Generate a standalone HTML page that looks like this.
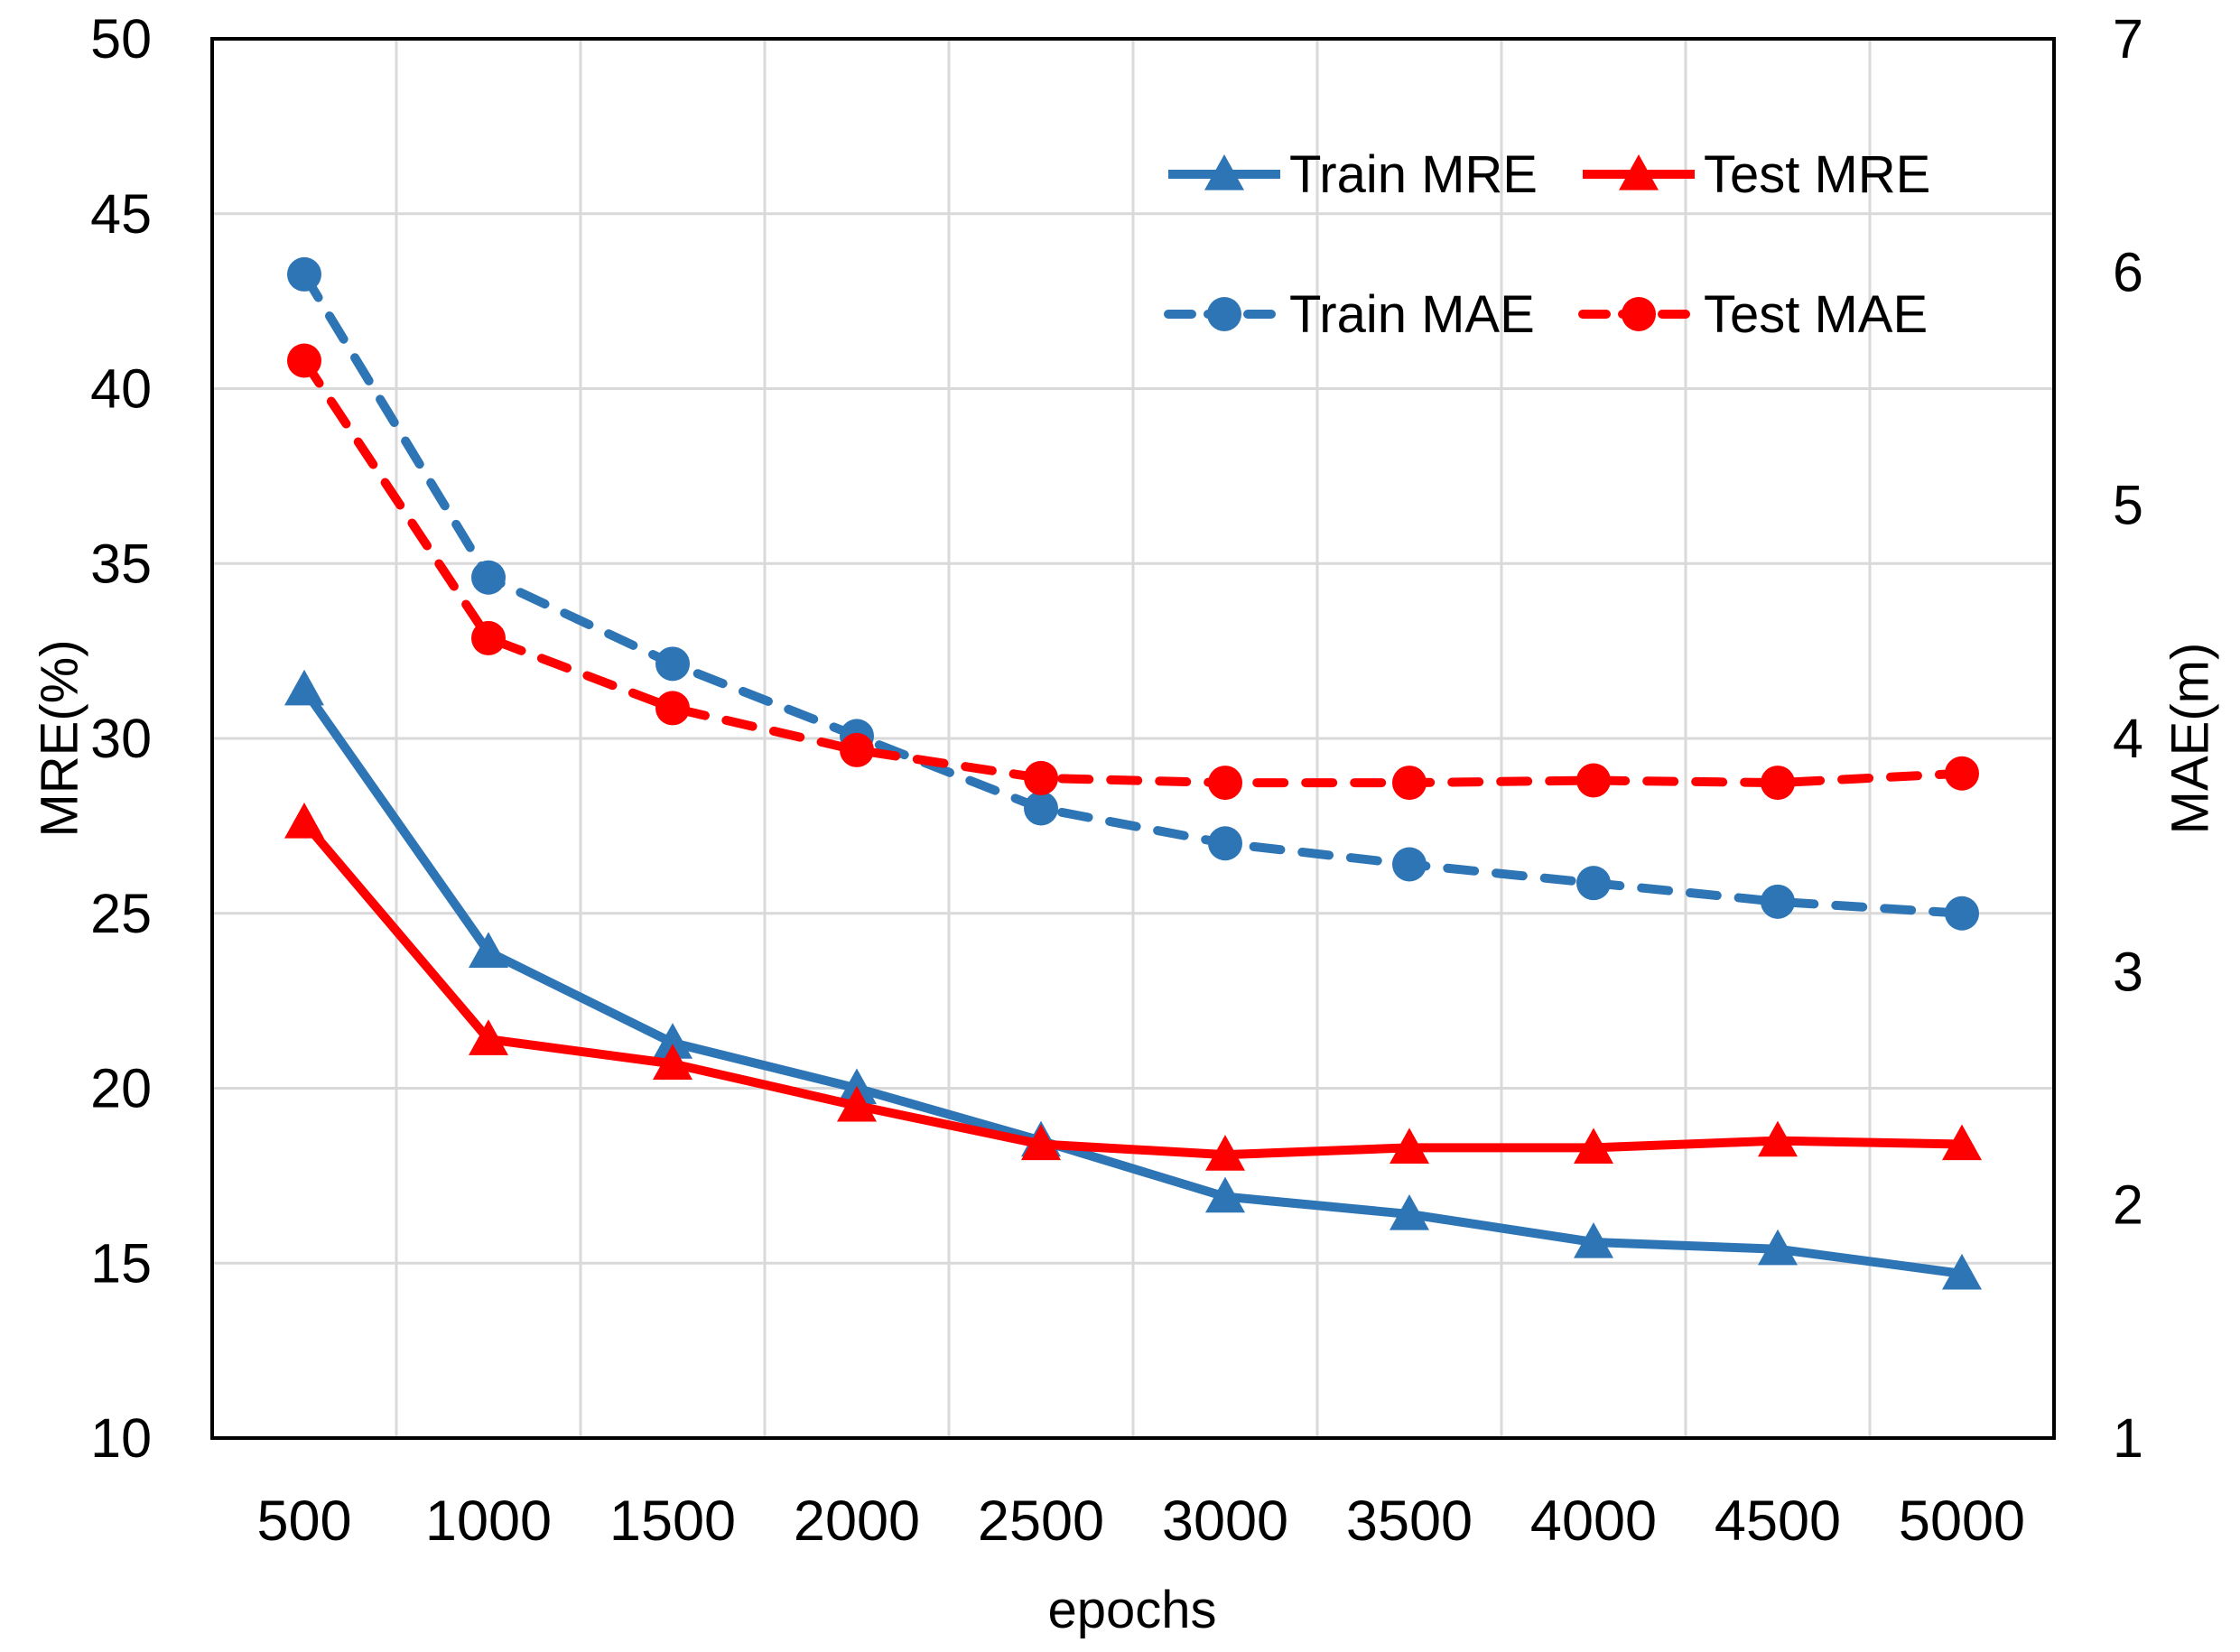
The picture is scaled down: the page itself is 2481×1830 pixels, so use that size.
<!DOCTYPE html>
<html><head><meta charset="utf-8"><style>html,body{margin:0;padding:0;background:#fff}svg{display:block}text{font-family:"Liberation Sans",sans-serif;fill:#000}</style></head>
<body>
<svg id="chart" width="2481" height="1830" viewBox="0 0 2481 1830">
<g id="grid"></g>
<g id="series"></g>
<rect x="235" y="43" width="2040" height="1550" fill="none" stroke="#000" stroke-width="4"/>
<g id="ticks"></g>
<text x="70" y="818" font-size="58" text-anchor="middle" transform="rotate(-90 70 818)" dominant-baseline="middle">MRE(%)</text>
<text x="2430" y="818" font-size="58" text-anchor="middle" transform="rotate(-90 2430 818)" dominant-baseline="middle">MAE(m)</text>
<text x="1254" y="1803" font-size="58" text-anchor="middle">epochs</text>
<g id="legend"></g>
</svg>
<script>
const categories = [500,1000,1500,2000,2500,3000,3500,4000,4500,5000];
const trainMRE = [31.4,23.9,21.3,20.0,18.5,16.9,16.4,15.6,15.4,14.7];
const testMRE = [27.6,21.4,20.7,19.5,18.4,18.1,18.3,18.3,18.5,18.4];
const trainMAE = [5.99,4.69,4.32,4.01,3.70,3.55,3.46,3.38,3.30,3.25];
const testMAE = [5.62,4.43,4.13,3.95,3.83,3.81,3.81,3.82,3.81,3.85];
const leftTicks = [10,15,20,25,30,35,40,45,50];
const rightTicks = [1,2,3,4,5,6,7];

const NS="http://www.w3.org/2000/svg";
const L=235,R=2275,T=43,B=1593;
const bw=(R-L)/categories.length;
const xs=i=>L+bw*(i+0.5);
const yL=v=>B-(v-10)/40*(B-T);
const yR=v=>B-(v-1)/6*(B-T);
function mk(tag,attrs,parent){const e=document.createElementNS(NS,tag);for(const k in attrs)e.setAttribute(k,attrs[k]);parent.appendChild(e);return e;}
const grid=document.getElementById('grid'),ticks=document.getElementById('ticks'),series=document.getElementById('series'),legend=document.getElementById('legend');
leftTicks.forEach(v=>{
  const g=mk('line',{x1:L,x2:R,y1:yL(v),y2:yL(v),stroke:'#d9d9d9','stroke-width':3},grid);
  
  
  const t=mk('text',{x:168,y:yL(v)+21,'font-size':61,'text-anchor':'end'},ticks);
  t.textContent=v;
  
  
});
for(let i=1;i<categories.length;i++){
  const g=mk('line',{x1:L+bw*i,x2:L+bw*i,y1:T,y2:B,stroke:'#d9d9d9','stroke-width':3},grid);
  
  
}
rightTicks.forEach(v=>{
  const t=mk('text',{x:2340,y:yR(v)+21,'font-size':61,'text-anchor':'start'},ticks);
  t.textContent=v;
  
  
});
categories.forEach((c,i)=>{
  const t=mk('text',{x:xs(i),y:1706,'font-size':63,'text-anchor':'middle'},ticks);
  t.textContent=c;
  
  
});
function tri(x,y,col,parent){const s=22;return mk('polygon',{points:`${x},${y-s} ${x+s},${y+s*0.8} ${x-s},${y+s*0.8}`,fill:col},parent);}
function drawSeries(vals,yf,col,dashed,marker,name){
  const g=mk('g',{},series);
  
  
  const pts=vals.map((v,i)=>xs(i)+','+yf(v)).join(' ');
  const pl=mk('polyline',{points:pts,fill:'none',stroke:col,'stroke-width':10,'stroke-linejoin':'round','stroke-linecap':dashed?'round':'butt','stroke-dasharray':dashed?'30 24':'none'},g);
  
  
  vals.forEach((v,i)=>{
    let m;
    if(marker==='tri') m=tri(xs(i),yf(v),col,g);
    else m=mk('circle',{cx:xs(i),cy:yf(v),r:19,fill:col},g);
    
    
  });
}
const blue='#2e75b6',red='#ff0000';
drawSeries(trainMAE,yR,blue,true,'circle','train-mae');
drawSeries(testMAE,yR,red,true,'circle','test-mae');
drawSeries(trainMRE,yL,blue,false,'tri','train-mre');
drawSeries(testMRE,yL,red,false,'tri','test-mre');
const leg=[['Train MRE',blue,false,'tri',1294,193],['Test MRE',red,false,'tri',1753,193],['Train MAE',blue,true,'circle',1294,348],['Test MAE',red,true,'circle',1753,348]];
leg.forEach(([label,col,d,m,x,y])=>{
  const g=mk('g',{},legend);
  
  
  mk('line',{x1:x,x2:x+124,y1:y,y2:y,stroke:col,'stroke-width':10,'stroke-linecap':d?'round':'butt','stroke-dasharray':d?'26 18':'none'},g);
  if(m==='tri')tri(x+62,y,col,g);else mk('circle',{cx:x+62,cy:y,r:19,fill:col},g);
  const t=mk('text',{x:x+134,y:y+20,'font-size':58},g);
  t.textContent=label;
  
  
});
</script>
</body></html>
